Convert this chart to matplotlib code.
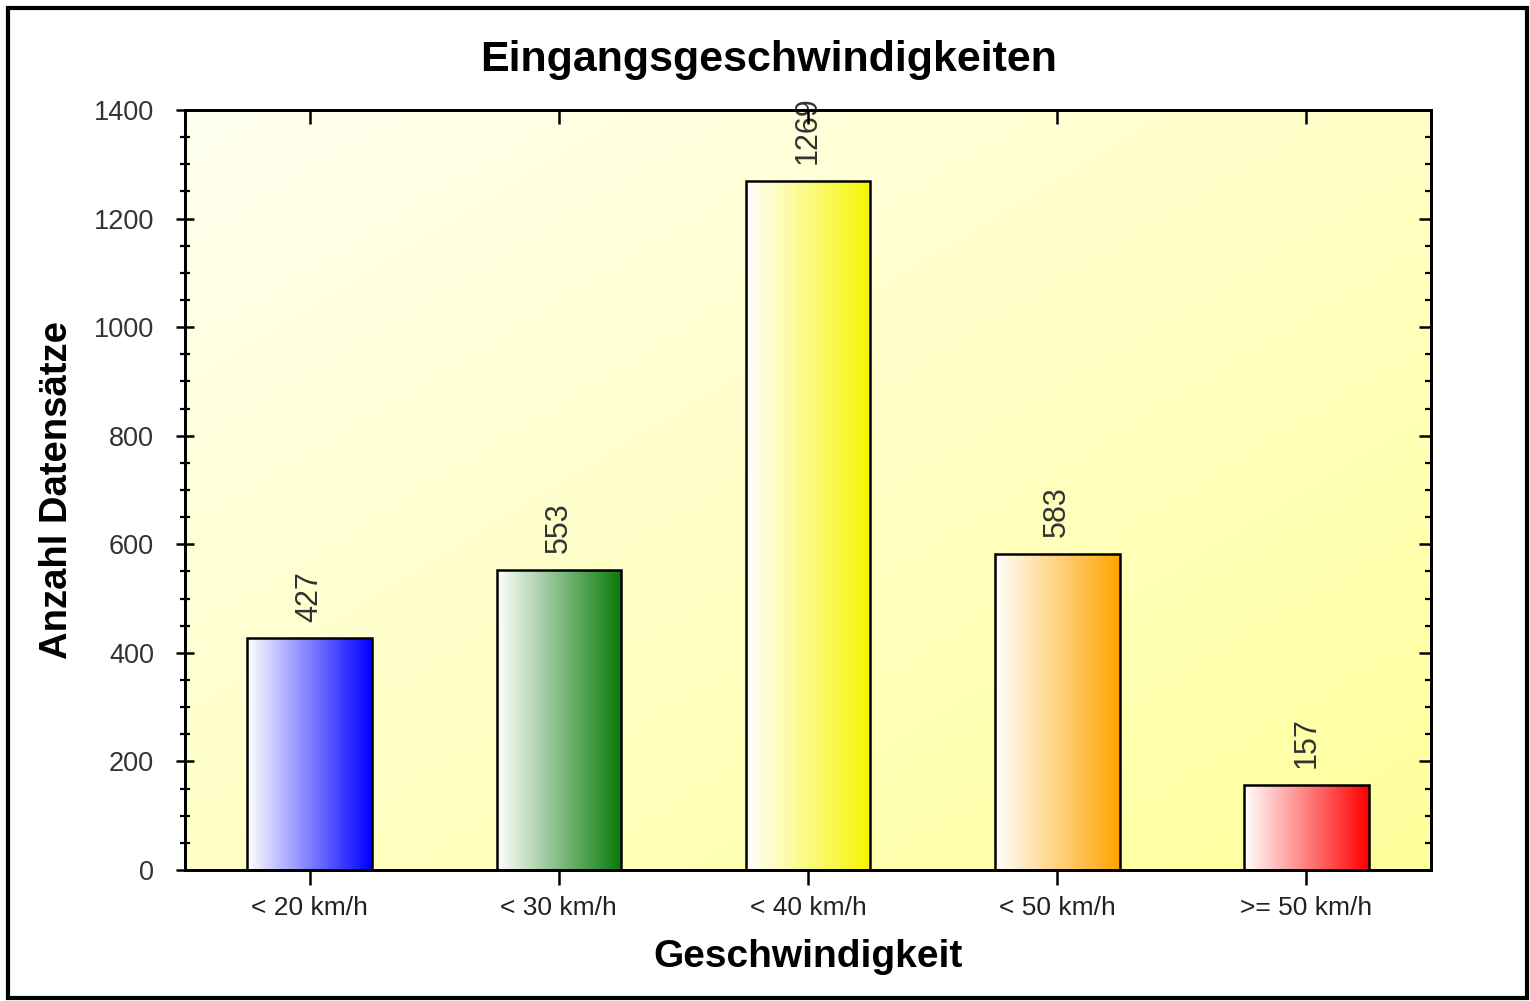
import numpy as np
import matplotlib
matplotlib.use("Agg")
import matplotlib.pyplot as plt
from matplotlib.colors import LinearSegmentedColormap, to_rgb
from matplotlib.patches import Rectangle
from matplotlib.ticker import MultipleLocator

categories = ["< 20 km/h", "< 30 km/h", "< 40 km/h", "< 50 km/h", ">= 50 km/h"]
values = [427, 553, 1269, 583, 157]
bar_colors = ["#0000FF", "#087A08", "#F5F500", "#FFA500", "#FF0000"]

title = "Eingangsgeschwindigkeiten"
xlabel = "Geschwindigkeit"
ylabel = "Anzahl Datensätze"

plt.rcParams['font.family'] = ['Liberation Sans', 'DejaVu Sans']

W, H = 1530, 1001
fig = plt.figure(figsize=(W / 100, H / 100), dpi=100)
fig.patch.set_facecolor("white")
ax = fig.add_axes([185/W, 1 - 870/H, (1431-185)/W, (870-110)/H])

x = np.arange(len(categories))
bars = ax.bar(x, values, width=0.5, facecolor="none", edgecolor="black", linewidth=1.8, zorder=3)

# background gradient (diagonal, light top-left to yellow bottom-right)
gy, gx = np.mgrid[0:1:200j, 0:1:200j]
t = (gx + gy) / 2.0
c0 = np.array(to_rgb("#FFFFF0"))
c1 = np.array(to_rgb("#FFFF9C"))
bg = c0[None, None, :] * (1 - t[..., None]) + c1[None, None, :] * t[..., None]
ax.imshow(bg, extent=[0, 1, 0, 1], transform=ax.transAxes, aspect="auto", zorder=0, origin="upper")

# gradient fills for bars
grad = np.linspace(0, 1, 256).reshape(1, -1)
for rect, col in zip(bars, bar_colors):
    cmap = LinearSegmentedColormap.from_list("g", ["#FFFFFF", col])
    x0, y0 = rect.get_x(), rect.get_y()
    w, h = rect.get_width(), rect.get_height()
    im = ax.imshow(grad, cmap=cmap, extent=[x0, x0 + w, y0, y0 + h], aspect="auto", zorder=2)
    im.set_clip_path(rect)

ax.set_xlim(-0.5, len(categories) - 0.5)
ax.set_ylim(0, 1400)

for rect, v in zip(bars, values):
    ax.annotate(str(v), (rect.get_x() + rect.get_width() / 2, rect.get_height()),
                xytext=(0, 12), textcoords="offset points", rotation=90,
                ha="center", va="bottom", fontsize=22, color="#333333", zorder=5,
                annotation_clip=False)

ax.set_xticks(x)
ax.set_xticklabels(categories, fontsize=19, color="#222222")
ax.yaxis.set_major_locator(MultipleLocator(200))
ax.yaxis.set_minor_locator(MultipleLocator(50))
ax.tick_params(axis="y", which="major", direction="inout", length=12.5, width=1.8,
               labelsize=19.5, labelcolor="#333333", pad=16)
ax.tick_params(axis="y", which="minor", direction="inout", length=7.5, width=1.6)
ax.tick_params(axis="x", which="major", direction="inout", length=21, width=1.8, pad=8)

# right and top ticks pointing inward
axr = ax.twinx()
axr.set_ylim(ax.get_ylim())
axr.yaxis.set_major_locator(MultipleLocator(200))
axr.yaxis.set_minor_locator(MultipleLocator(50))
axr.tick_params(axis="y", which="major", direction="in", length=8.6, width=1.8, labelright=False)
axr.tick_params(axis="y", which="minor", direction="in", length=4.3, width=1.6)
axt = ax.twiny()
axt.set_xlim(ax.get_xlim())
axt.set_xticks(x)
axt.tick_params(axis="x", which="major", direction="in", length=10, width=1.8, labeltop=False)

for a in (ax, axr, axt):
    for sp in a.spines.values():
        sp.set_linewidth(2)
        sp.set_zorder(6)

fig.suptitle(title, x=769/W, y=1 - 60/H, va="center", fontsize=31, fontweight="bold")
ax.set_xlabel(xlabel, fontsize=28, fontweight="bold")
ax.set_ylabel(ylabel, fontsize=27.5, fontweight="bold")
ax.xaxis.label.set_va("center")
ax.yaxis.label.set_va("center")
ax.xaxis.set_label_coords(0.5, (870 - 957) / 760)
ax.yaxis.set_label_coords((57 - 185) / 1246, 0.5)

fig.patches.append(Rectangle((8/W, 3/H), 1519/W, 990/H, transform=fig.transFigure,
                             fill=False, edgecolor="black", linewidth=3))

fig.savefig("out.png", dpi=100, facecolor="white")
